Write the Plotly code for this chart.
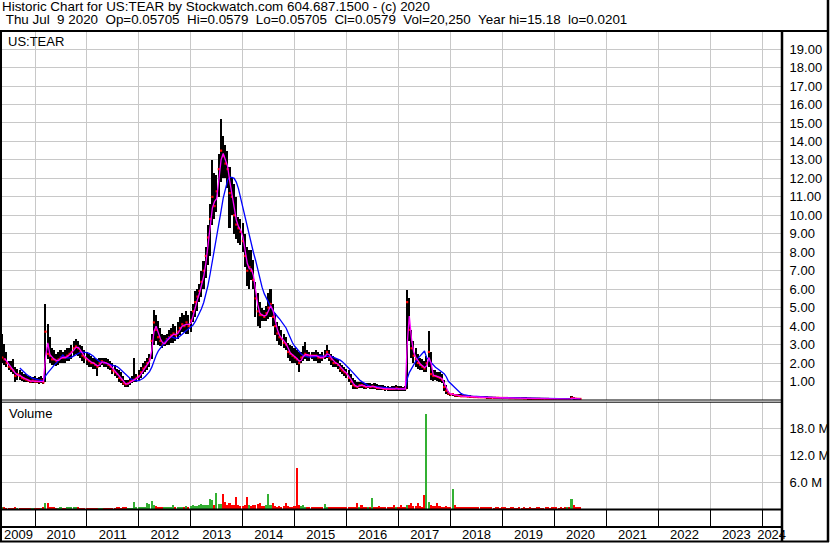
import plotly.graph_objects as go
import pandas as pd

# ---------------- data (semi-monthly bars) ----------------
highs = [
    3.6, 3.05, 2.6, 2.1, 2.1, 2.2, 1.8, 1.7, 1.6, 1.5,
    1.4, 1.4, 1.3, 1.3, 1.25, 1.3, 1.2, 1.25, 1.3, 1.2,
    5.2, 4.1, 3.4, 2.8, 2.7, 2.5, 2.6, 2.7, 2.6, 2.7,
    2.8, 2.8, 3.0, 3.2, 3.3, 3.2, 3.0, 2.9, 2.7, 2.6,
    2.5, 2.4, 2.3, 2.3, 2.2, 2.3, 2.3, 2.3, 2.3, 2.2,
    2.1, 2.0, 1.9, 1.7, 1.6, 1.5, 1.3, 1.1, 1.1, 1.2,
    1.3, 2.25, 1.4, 1.6, 1.8, 2.0, 2.1, 2.3, 2.5, 3.6,
    4.9, 4.6, 4.3, 3.9, 3.6, 3.5, 3.6, 3.8, 3.9, 4.1,
    4.0, 4.2, 4.5, 4.7, 4.6, 4.8, 4.6, 4.8, 5.2, 5.9,
    6.0, 6.3, 7.0, 7.5, 8.3, 9.5, 10.6, 13.0, 12.3, 12.2,
    13.3, 15.2, 14.3, 13.8, 13.5, 12.6, 12.0, 11.7, 11.0, 9.9,
    9.8, 9.6, 9.0, 8.3, 8.1, 8.1, 7.6, 6.4, 5.8, 5.3,
    5.0, 4.9, 5.1, 5.8, 6.0, 5.2, 4.7, 4.2, 4.0, 3.8,
    3.6, 3.4, 3.1, 3.0, 2.9, 2.8, 2.7, 2.6, 2.6, 2.9,
    3.15, 2.7, 2.6, 2.6, 2.6, 2.7, 2.6, 2.5, 2.6, 2.7,
    3.0, 2.7, 2.5, 2.4, 2.3, 2.2, 2.0, 1.9, 1.8, 1.7,
    1.6, 1.4, 1.2, 1.1, 1.0, 0.95, 0.95, 0.9, 0.9, 0.9,
    0.9, 0.85, 0.9, 0.85, 0.8, 0.8, 0.8, 0.75, 0.75, 0.7,
    0.75, 0.75, 0.8, 0.75, 0.75, 0.7, 0.75, 5.95, 5.5, 3.8,
    3.2, 2.8, 2.5, 2.3, 2.2, 2.1, 2.4, 3.75, 2.6, 1.6,
    1.6, 1.5, 1.5, 1.4, 1.1, 0.8, 0.5, 0.4, 0.4, 0.35,
    0.35, 0.3, 0.3, 0.28, 0.28, 0.25, 0.25, 0.24, 0.22, 0.22,
    0.2, 0.2, 0.22, 0.2, 0.19, 0.18, 0.18, 0.17, 0.17, 0.16,
    0.16, 0.15, 0.15, 0.15, 0.14, 0.14, 0.13, 0.13, 0.13, 0.12,
    0.12, 0.12, 0.11, 0.11, 0.11, 0.10, 0.10, 0.10, 0.10, 0.09,
    0.09, 0.09, 0.09, 0.08, 0.08, 0.09, 0.08, 0.08, 0.08, 0.08,
    0.07, 0.08, 0.08, 0.20, 0.15, 0.10, 0.08, 0.07,
]
lows = [
    2.0, 1.9, 1.8, 1.6, 1.5, 1.4, 1.0, 1.1, 1.1, 1.05,
    1.0, 0.95, 0.95, 0.9, 0.9, 0.9, 0.9, 0.85, 0.9, 0.85,
    1.0, 2.2, 2.0, 1.9, 1.9, 1.85, 1.9, 2.0, 2.0, 2.0,
    2.1, 2.1, 2.2, 2.4, 2.5, 2.4, 2.3, 2.1, 2.0, 1.9,
    1.8, 1.8, 1.7, 1.7, 1.3, 1.8, 1.9, 1.8, 1.8, 1.7,
    1.6, 1.4, 1.3, 1.2, 1.0, 0.9, 0.8, 0.7, 0.7, 0.8,
    0.9, 1.0, 1.0, 1.1, 1.2, 1.4, 1.5, 1.6, 1.8, 2.2,
    3.0, 3.2, 3.0, 2.9, 2.8, 2.9, 3.0, 3.0, 3.1, 3.1,
    3.2, 3.3, 3.5, 3.7, 3.7, 3.6, 3.6, 3.7, 4.2, 4.5,
    4.8, 5.3, 5.6, 6.0, 6.6, 7.3, 7.8, 9.5, 9.8, 10.2,
    11.0, 11.8, 12.0, 12.0, 11.5, 9.3, 10.0, 9.0, 8.7, 8.5,
    8.4, 8.0, 7.2, 6.2, 6.0, 6.5, 6.0, 4.5, 4.0, 3.9,
    4.3, 4.3, 4.3, 4.4, 4.5, 4.0, 3.5, 3.2, 3.0, 2.9,
    2.8, 2.7, 2.3, 2.1, 2.0, 2.0, 1.9, 1.5, 2.0, 2.1,
    2.2, 2.1, 2.1, 2.2, 2.1, 2.1, 2.0, 2.0, 2.1, 2.2,
    2.3, 2.1, 1.9, 1.8, 1.8, 1.7, 1.5, 1.4, 1.3, 1.2,
    1.0, 0.8, 0.6, 0.6, 0.6, 0.65, 0.65, 0.6, 0.6, 0.65,
    0.6, 0.6, 0.6, 0.55, 0.55, 0.55, 0.55, 0.5, 0.5, 0.5,
    0.5, 0.5, 0.5, 0.5, 0.5, 0.5, 0.5, 0.6, 3.2, 2.3,
    2.0, 1.8, 1.7, 1.6, 1.6, 1.5, 1.5, 1.8, 1.1, 1.05,
    1.1, 1.05, 1.0, 0.9, 0.5, 0.3, 0.25, 0.2, 0.2, 0.18,
    0.18, 0.17, 0.16, 0.15, 0.15, 0.14, 0.13, 0.13, 0.12, 0.12,
    0.12, 0.11, 0.11, 0.11, 0.1, 0.1, 0.1, 0.09, 0.09, 0.09,
    0.08, 0.08, 0.08, 0.08, 0.08, 0.07, 0.07, 0.07, 0.07, 0.06,
    0.06, 0.06, 0.06, 0.05, 0.05, 0.05, 0.05, 0.05, 0.04, 0.04,
    0.04, 0.04, 0.04, 0.03, 0.03, 0.03, 0.03, 0.03, 0.03, 0.02,
    0.02, 0.02, 0.03, 0.04, 0.05, 0.05, 0.05, 0.05,
]
closes = [
    2.3, 2.2, 2.0, 1.8, 1.7, 1.6, 1.3, 1.4, 1.3, 1.2,
    1.15, 1.1, 1.05, 1.0, 1.05, 1.0, 1.0, 1.0, 1.05, 0.95,
    3.7, 2.5, 2.4, 2.2, 2.2, 2.1, 2.2, 2.3, 2.3, 2.3,
    2.4, 2.5, 2.6, 2.8, 2.9, 2.8, 2.6, 2.4, 2.3, 2.2,
    2.1, 2.0, 2.0, 1.9, 1.8, 2.0, 2.1, 2.0, 2.0, 1.9,
    1.8, 1.6, 1.5, 1.4, 1.2, 1.1, 0.9, 0.85, 0.9, 1.0,
    1.05, 1.1, 1.2, 1.3, 1.5, 1.7, 1.8, 2.0, 2.2, 3.2,
    4.2, 3.8, 3.4, 3.2, 3.0, 3.1, 3.3, 3.4, 3.5, 3.6,
    3.5, 3.7, 3.9, 4.1, 4.0, 4.2, 4.0, 4.3, 4.8, 5.3,
    5.6, 5.9, 6.4, 7.0, 7.8, 8.8, 9.8, 11.0, 10.5, 11.3,
    12.5, 13.5, 13.2, 12.8, 12.5, 11.2, 11.0, 10.0, 9.5, 9.3,
    9.1, 8.6, 7.8, 7.0, 7.2, 7.0, 6.5, 5.5, 4.8, 4.6,
    4.6, 4.5, 4.7, 5.0, 5.2, 4.5, 4.0, 3.6, 3.4, 3.3,
    3.1, 3.0, 2.6, 2.5, 2.4, 2.3, 2.2, 2.0, 2.3, 2.4,
    2.5, 2.4, 2.4, 2.4, 2.4, 2.4, 2.3, 2.3, 2.3, 2.4,
    2.6, 2.3, 2.2, 2.0, 2.0, 1.9, 1.7, 1.6, 1.5, 1.4,
    1.2, 1.0, 0.8, 0.75, 0.7, 0.8, 0.8, 0.75, 0.7, 0.75,
    0.7, 0.75, 0.7, 0.65, 0.65, 0.65, 0.6, 0.6, 0.6, 0.6,
    0.6, 0.6, 0.65, 0.6, 0.6, 0.6, 0.6, 5.3, 3.8, 2.8,
    2.4, 2.2, 2.0, 1.9, 1.8, 1.7, 2.0, 2.6, 1.4, 1.3,
    1.3, 1.25, 1.2, 1.1, 0.7, 0.5, 0.35, 0.3, 0.32, 0.25,
    0.25, 0.22, 0.2, 0.2, 0.2, 0.18, 0.18, 0.17, 0.16, 0.16,
    0.15, 0.15, 0.15, 0.14, 0.14, 0.13, 0.13, 0.12, 0.12, 0.12,
    0.11, 0.11, 0.11, 0.11, 0.10, 0.10, 0.10, 0.09, 0.09, 0.09,
    0.09, 0.08, 0.08, 0.08, 0.08, 0.07, 0.07, 0.07, 0.07, 0.06,
    0.06, 0.06, 0.06, 0.05, 0.05, 0.05, 0.05, 0.05, 0.05, 0.04,
    0.04, 0.05, 0.05, 0.12, 0.08, 0.07, 0.06, 0.058,
]
# volume in millions of shares
volumes_m = [
    0.3, 0.25, 0.2, 0.2, 0.15, 0.2, 0.25, 0.2, 0.15, 0.2,
    0.15, 0.2, 0.15, 0.2, 0.15, 0.2, 0.2, 0.15, 0.2, 0.25,
    1.36, 1.36, 0.5, 0.3, 0.25, 0.2, 0.2, 0.25, 0.2, 0.2,
    0.25, 0.3, 0.3, 0.35, 0.3, 0.25, 0.2, 0.2, 0.2, 0.2,
    0.15, 0.2, 0.2, 0.15, 0.2, 0.2, 0.15, 0.2, 0.15, 0.15,
    0.2, 0.2, 0.2, 0.25, 0.3, 0.2, 0.3, 0.25, 0.2, 0.2,
    0.2, 1.6, 0.3, 0.3, 0.3, 0.3, 0.4, 1.4, 1.2, 1.7,
    0.9, 0.6, 0.5, 0.4, 0.3, 0.3, 0.3, 0.35, 0.4, 0.9,
    0.5, 0.4, 0.4, 0.5, 0.5, 0.6, 0.5, 0.6, 1.0, 0.6,
    0.7, 0.8, 1.2, 0.8, 0.9, 1.0, 2.2, 2.0, 1.0, 3.6,
    1.2, 1.1, 3.3, 1.6, 0.8, 1.4, 0.8, 0.9, 2.6, 0.8,
    0.7, 0.7, 0.8, 2.8, 1.0, 0.7, 0.8, 0.9, 1.1, 1.3,
    0.7, 0.6, 0.8, 3.4, 0.9, 1.4, 0.6, 0.5, 0.6, 0.5,
    0.6, 1.3, 0.6, 0.5, 0.5, 0.6, 9.2, 1.0, 0.6, 0.8,
    0.5, 0.4, 0.4, 0.3, 0.3, 0.4, 0.3, 0.3, 0.4, 1.1,
    0.5, 0.4, 0.3, 0.3, 0.3, 0.4, 0.3, 0.3, 0.3, 0.3,
    0.4, 0.4, 0.5, 0.4, 1.3, 0.4, 0.8, 0.4, 0.3, 0.4,
    0.5, 2.5, 0.5, 0.4, 0.6, 0.4, 0.3, 0.3, 0.4, 0.5,
    0.4, 1.0, 0.4, 0.5, 0.9, 0.5, 0.4, 1.0, 0.8, 1.4,
    0.7, 0.6, 1.3, 0.6, 0.5, 3.2, 21.3, 1.6, 0.8, 0.6,
    0.7, 1.3, 0.6, 0.5, 0.5, 0.6, 0.4, 0.4, 4.5, 0.9,
    0.4, 0.3, 0.3, 0.35, 0.3, 0.3, 0.3, 0.25, 0.3, 0.25,
    0.3, 0.25, 0.3, 0.3, 0.25, 0.3, 0.25, 0.2, 0.3, 0.25,
    0.2, 0.3, 0.25, 0.2, 0.2, 0.25, 0.3, 0.2, 0.2, 0.25,
    0.2, 0.3, 0.2, 0.2, 0.25, 0.2, 0.2, 0.3, 0.25, 0.2,
    0.2, 0.3, 0.35, 0.2, 0.25, 0.25, 0.3, 0.2, 0.25, 0.2,
    0.25, 0.3, 0.4, 2.2, 1.0, 0.5, 0.4, 0.3,
]
year_labels = [str(y) for y in range(2009, 2025)]
price_ticks = list(range(1, 20))
vol_ticks = [6, 12, 18]
vol_tick_text = ["6.0 M", "12.0 M", "18.0 M"]
header_line1 = "Historic Chart for US:TEAR by Stockwatch.com 604.687.1500 - (c) 2020"
header_line2 = " Thu Jul  9 2020  Op=0.05705  Hi=0.0579  Lo=0.05705  Cl=0.0579  Vol=20,250  Year hi=15.18  lo=0.0201"
symbol_label = "US:TEAR"
volume_label = "Volume"

# ---------------- derived series ----------------
dates = []
for y in range(2009, 2021):
    for m in range(1, 13):
        for d in (1, 16):
            t = pd.Timestamp(y, m, d)
            if pd.Timestamp(2009, 5, 16) <= t <= pd.Timestamp(2020, 7, 1):
                dates.append(t)
n = min(len(dates), len(highs), len(lows), len(closes), len(volumes_m))
dates = dates[:n]
highs, lows, closes, volumes_m = highs[:n], lows[:n], closes[:n], volumes_m[:n]

cs = pd.Series(closes)
ma_short = cs.rolling(2).mean()
ma_long = cs.rolling(9).mean()
vol_colors = ["#33b033"] + [
    "#33b033" if closes[i] > closes[i - 1] else "#ff0000" for i in range(1, n)
]

x_start, x_end = "2009-05-14", "2024-05-11"
year_bounds = [f"{y}-01-01" for y in range(2010, 2025)]
label_pos = ["2009-09-07"] + [f"{y}-07-02" for y in range(2010, 2024)] + ["2024-03-06"]

DAY = 86400000
FONT = "Liberation Sans, Arial, sans-serif"
GRID = "#c8c8c8"

# ---------------- figure ----------------
W, H = 830, 543
ML, MR, MT, MB = 2, 49, 31, 34
PW, PH = W - ML - MR, H - MT - MB


def fx(px):
    return (px - ML) / PW


def fy(py):
    return (H - MB - py) / PH


fig = go.Figure()
fig.add_trace(go.Bar(
    x=dates, y=[h - l for h, l in zip(highs, lows)], base=lows,
    width=11 * DAY, marker=dict(color="black", line=dict(width=0)),
    xaxis="x", yaxis="y", hoverinfo="skip", showlegend=False,
))
fig.add_trace(go.Scatter(
    x=dates, y=closes, mode="markers",
    marker=dict(symbol="square", size=2.2, color="#ff0000", line=dict(width=0)),
    xaxis="x", yaxis="y", showlegend=False,
))
fig.add_trace(go.Scatter(
    x=dates, y=ma_long, mode="lines", line=dict(color="#0000ff", width=1.3),
    xaxis="x", yaxis="y", showlegend=False,
))
fig.add_trace(go.Scatter(
    x=dates, y=ma_short, mode="lines", line=dict(color="#ff00ff", width=1.3),
    xaxis="x", yaxis="y", showlegend=False,
))
fig.add_trace(go.Bar(
    x=dates, y=volumes_m, width=11 * DAY,
    marker=dict(color=vol_colors, line=dict(width=0)),
    xaxis="x2", yaxis="y2", showlegend=False,
))

price_bottom = fy(400)
vol_top = fy(402)

common_x = dict(type="date", range=[x_start, x_end], zeroline=False, showline=False,
                showgrid=False, fixedrange=True, automargin=False)
fig.update_layout(
    width=W, height=H, autosize=False,
    margin=dict(l=ML, r=MR, t=MT, b=MB, pad=0, autoexpand=False),
    paper_bgcolor="white", plot_bgcolor="white",
    barmode="overlay", bargap=0,
    font=dict(family=FONT, size=13, color="black"),
    showlegend=False,
    xaxis=dict(**common_x, domain=[0, 1], anchor="y", showticklabels=False,
               tickvals=label_pos, ticks="",
               minor=dict(tickvals=year_bounds, showgrid=True, gridcolor=GRID,
                          gridwidth=1, ticks="")),
    xaxis2=dict(**common_x, domain=[0, 1], anchor="y2", matches="x",
                tickvals=label_pos, ticktext=year_labels,
                ticks="outside", ticklen=13, tickcolor="rgba(0,0,0,0)",
                tickfont=dict(family=FONT, size=13, color="black"),
                minor=dict(tickvals=year_bounds, ticks="outside", ticklen=18,
                           tickcolor="black", tickwidth=1, showgrid=True,
                           gridcolor=GRID, gridwidth=1)),
    yaxis=dict(domain=[price_bottom, 1], range=[0, 19.98], side="right",
               tickvals=price_ticks, tickformat=".2f", automargin=False,
               ticks="outside", ticklen=5, tickcolor="rgba(0,0,0,0)",
               showgrid=True, gridcolor=GRID, gridwidth=1,
               zeroline=False, showline=False, fixedrange=True,
               tickfont=dict(family=FONT, size=13, color="black")),
    yaxis2=dict(domain=[0, vol_top], range=[0, 24], side="right",
                tickvals=vol_ticks, ticktext=vol_tick_text, automargin=False,
                ticks="outside", ticklen=5, tickcolor="rgba(0,0,0,0)",
                showgrid=True, gridcolor=GRID, gridwidth=1,
                zeroline=False, showline=False, fixedrange=True,
                tickfont=dict(family=FONT, size=13, color="black")),
)

shapes = []


def hline(py, x0, x1, w):
    shapes.append(dict(type="line", xref="paper", yref="paper",
                       x0=fx(x0), x1=fx(x1), y0=fy(py), y1=fy(py),
                       line=dict(color="black", width=w)))


def vline(px, y0, y1, w):
    shapes.append(dict(type="line", xref="paper", yref="paper",
                       x0=fx(px), x1=fx(px), y0=fy(y0), y1=fy(y1),
                       line=dict(color="black", width=w)))


hline(31, 0, 829, 2)        # header separator
hline(400, 0, 782, 1)       # double line between panels
hline(402.2, 0, 782, 1)
hline(509.5, 0, 782, 2)     # bottom of volume panel
hline(527, 0, 782, 2)       # year-label row separator
hline(541.5, 0, 829, 2)     # bottom frame
vline(1, 31, 542, 2)        # left frame
vline(828, 0, 542, 2.5)     # right frame
vline(782, 31, 542, 2.5)    # price axis line
fig.update_layout(shapes=shapes)

ann_font = dict(family=FONT, size=13.4, color="black")
annotations = [
    dict(text=header_line1.replace(" ", "\u00a0"), x=fx(1), y=fy(6.5),
         xanchor="left", yanchor="middle", font=ann_font),
    dict(text=header_line2.replace(" ", "\u00a0"), x=fx(1), y=fy(19.5),
         xanchor="left", yanchor="middle", font=ann_font),
    dict(text=symbol_label, x=fx(7), y=fy(41.5), xanchor="left", yanchor="middle",
         font=dict(family=FONT, size=13, color="black")),
    dict(text=volume_label, x=fx(8), y=fy(413), xanchor="left", yanchor="middle",
         font=dict(family=FONT, size=13, color="black")),
]
for a in annotations:
    a.update(xref="paper", yref="paper", showarrow=False, borderpad=0)
fig.update_layout(annotations=annotations)

fig.write_html(
    "out.html", include_plotlyjs=True, config={"displayModeBar": False},
    post_script="document.body.style.margin='0px';document.body.style.overflow='hidden';",
)
